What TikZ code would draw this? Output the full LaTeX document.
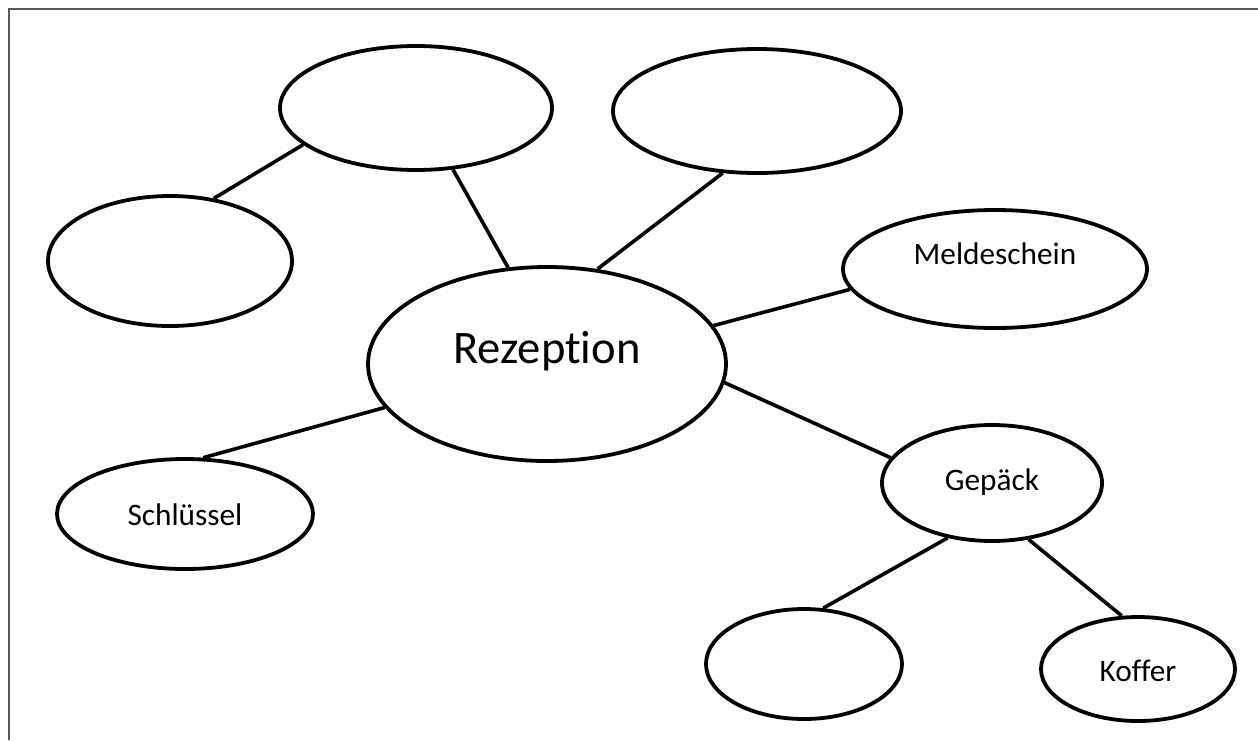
\documentclass[tikz,border=0pt]{standalone}
\usepackage{fontspec}
\setmainfont{Carlito}[Ligatures=NoCommon]
\usetikzlibrary{shapes.geometric}
\begin{document}
\begin{tikzpicture}[x=1pt,y=-1pt,
  oval/.style={ellipse, draw, line width=3.8pt, inner sep=0pt},
  word/.style={anchor=base, inner sep=0pt, font=\fontsize{31.3}{36}\selectfont},
  link/.style={line width=3.6pt}]
\useasboundingbox (0,0) rectangle (1258,740);
\draw[line width=2pt, black!65] (9,740) -- (9,9) -- (1258,9);
\node[oval, minimum width=358pt, minimum height=194pt, label={[word, font=\fontsize{46.6}{52}\selectfont, yshift=13pt]center:Rezeption}] (oval0) at (547,364){};
\node[oval, minimum width=272pt, minimum height=124pt] (oval1) at (416,108){};
\node[oval, minimum width=244pt, minimum height=130pt] (oval3) at (170,261){};
\draw[link](oval3.55) -- (oval1.198);
\draw[link](oval1.301) -- (oval0.112);
\node[oval, minimum width=288pt, minimum height=124pt] (oval2) at (757,111){};
\draw[link](oval0.62) -- (oval2.241);
\node[oval, minimum width=304pt, minimum height=118pt, label={[word, yshift=15pt]center:Meldeschein}] (oval4) at (995,269){};
\draw[link](oval0.13.5) -- (oval4.188);
\node[oval, minimum width=256pt, minimum height=110pt, label={[word, yshift=-1pt]center:Schlüssel}] (oval5) at (185,514){};
\draw[link](oval0.195.6) -- (oval5.72);
\node[oval, minimum width=220pt, minimum height=116pt, label={[word, yshift=1pt]center:Gepäck}] (oval6) at (992,483){};
\draw[link](oval0.354) -- (oval6.166);
\node[oval, minimum width=196pt, minimum height=110pt] (oval7) at (804,664){};
\node[oval, minimum width=194pt, minimum height=104pt, label={[word, yshift=-2pt]center:Koffer}] (oval8) at (1138,669){};
\draw[link](oval6.231.5) -- (oval7.71.6);
\draw[link](oval6.303.5) -- (oval8.107);
\end{tikzpicture}
\end{document}
